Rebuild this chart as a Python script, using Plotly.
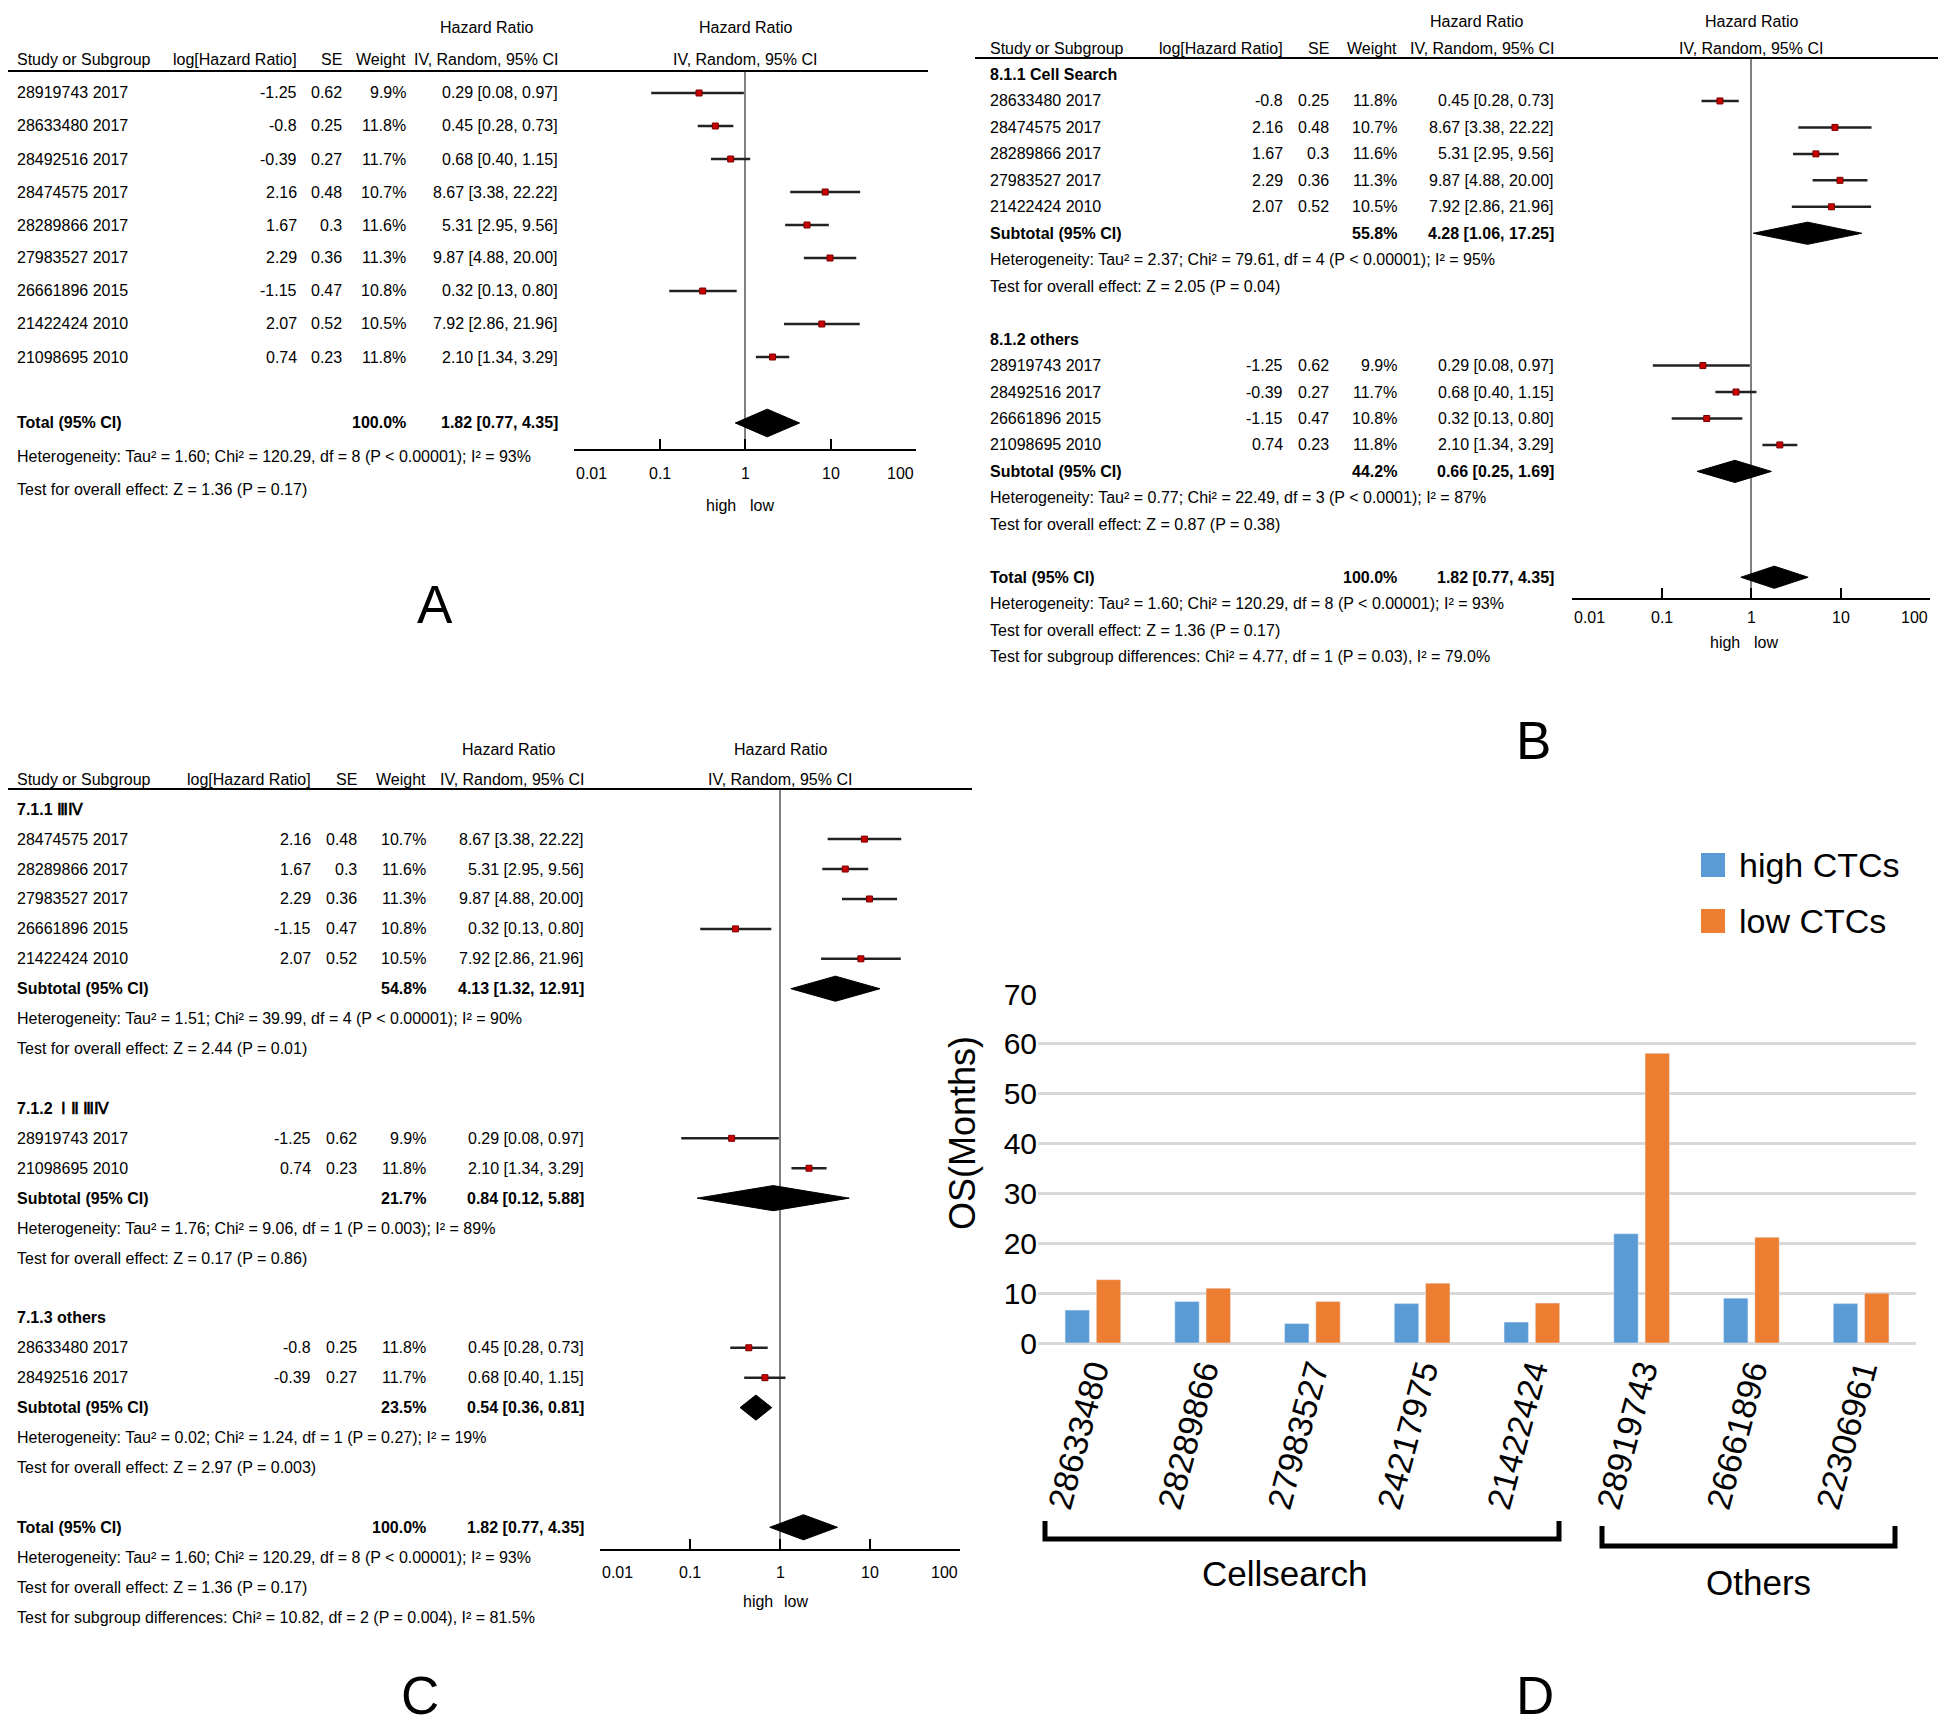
import math
import plotly.graph_objects as go

W, H = 1946, 1725
OFF = 8  # the page body margin shifts the figure by 8px
TXT = "Liberation Sans Narrow, Arial Narrow, Liberation Sans, Arial, sans-serif"
SANS = "Liberation Sans, Arial, sans-serif"
FS = 16

# study level results, same numbers in every forest plot
study_id = ["28919743", "28633480", "28492516", "28474575", "28289866",
            "27983527", "26661896", "21422424", "21098695"]
study_year = [2017, 2017, 2017, 2017, 2017, 2017, 2015, 2010, 2010]
log_hr = [-1.25, -0.8, -0.39, 2.16, 1.67, 2.29, -1.15, 2.07, 0.74]
se = [0.62, 0.25, 0.27, 0.48, 0.3, 0.36, 0.47, 0.52, 0.23]
weight = [9.9, 11.8, 11.7, 10.7, 11.6, 11.3, 10.8, 10.5, 11.8]
hr = [0.29, 0.45, 0.68, 8.67, 5.31, 9.87, 0.32, 7.92, 2.10]
hr_lo = [0.08, 0.28, 0.40, 3.38, 2.95, 4.88, 0.13, 2.86, 1.34]
hr_hi = [0.97, 0.73, 1.15, 22.22, 9.56, 20.00, 0.80, 21.96, 3.29]

# pooled over all nine studies
total_hr = [1.82, 0.77, 4.35]
total_het = "Heterogeneity: Tau² = 1.60; Chi² = 120.29, df = 8 (P < 0.00001); I² = 93%"
total_test = "Test for overall effect: Z = 1.36 (P = 0.17)"

# panel B subgroups (detection method)
b_names = ["8.1.1 Cell Search", "8.1.2 others"]
b_members = [["28633480", "28474575", "28289866", "27983527", "21422424"],
             ["28919743", "28492516", "26661896", "21098695"]]
b_weight = [55.8, 44.2]
b_hr = [[4.28, 1.06, 17.25], [0.66, 0.25, 1.69]]
b_het = ["Heterogeneity: Tau² = 2.37; Chi² = 79.61, df = 4 (P < 0.00001); I² = 95%",
         "Heterogeneity: Tau² = 0.77; Chi² = 22.49, df = 3 (P < 0.0001); I² = 87%"]
b_test = ["Test for overall effect: Z = 2.05 (P = 0.04)",
          "Test for overall effect: Z = 0.87 (P = 0.38)"]
b_diff = "Test for subgroup differences: Chi² = 4.77, df = 1 (P = 0.03), I² = 79.0%"

# panel C subgroups (stage)
c_names = ["7.1.1 ⅢⅣ", "7.1.2  Ⅰ Ⅱ ⅢⅣ", "7.1.3 others"]
c_members = [["28474575", "28289866", "27983527", "26661896", "21422424"],
             ["28919743", "21098695"],
             ["28633480", "28492516"]]
c_weight = [54.8, 21.7, 23.5]
c_hr = [[4.13, 1.32, 12.91], [0.84, 0.12, 5.88], [0.54, 0.36, 0.81]]
c_het = ["Heterogeneity: Tau² = 1.51; Chi² = 39.99, df = 4 (P < 0.00001); I² = 90%",
         "Heterogeneity: Tau² = 1.76; Chi² = 9.06, df = 1 (P = 0.003); I² = 89%",
         "Heterogeneity: Tau² = 0.02; Chi² = 1.24, df = 1 (P = 0.27); I² = 19%"]
c_test = ["Test for overall effect: Z = 2.44 (P = 0.01)",
          "Test for overall effect: Z = 0.17 (P = 0.86)",
          "Test for overall effect: Z = 2.97 (P = 0.003)"]
c_diff = "Test for subgroup differences: Chi² = 10.82, df = 2 (P = 0.004), I² = 81.5%"

# panel D bars
d_studies = ["28633480", "28289866", "27983527", "24217975", "21422424",
             "28919743", "26661896", "22306961"]
os_high = [6.6, 8.3, 3.9, 7.9, 4.2, 21.9, 9.0, 7.9]
os_low = [12.7, 11.0, 8.3, 12.0, 8.0, 58.1, 21.2, 10.0]
hr_ticks = [0.01, 0.1, 1, 10, 100]
hr_tick_text = ["0.01", "0.1", "1", "10", "100"]


def px(x):
    return (x - OFF) / W


def py(y):
    return 1 - (y - OFF) / H


def build_rows(groups=None, diff=None):
    rows = []
    if groups is None:
        rows += [("study", i) for i in range(len(study_id))]
        rows.append(("blank",))
    else:
        for name, members, w, est, het, test in groups:
            rows.append(("head", name))
            rows += [("study", study_id.index(m)) for m in members]
            rows.append(("sub", w, est))
            rows += [("note", het), ("note", test), ("blank",)]
    rows.append(("total", 100.0, total_hr))
    rows += [("note", total_het), ("note", total_test)]
    if diff:
        rows.append(("note", diff))
    return rows


panels = [
    dict(n="", rows=build_rows(), y0=93, step=33.0, top=71, bottom=449, tick_y=473,
         x_lo=574, x_hi=916, left=15, c_log=299, c_se=344, c_w=408, c_ci=560,
         hr_head=486, fx=745, rule=(0, 928), high=(721, 762, 505), letter=("A", 435, 604)),
    dict(n="2", rows=build_rows(list(zip(b_names, b_members, b_weight, b_hr, b_het, b_test)), b_diff),
         y0=74.5, step=26.46, top=58, bottom=598, tick_y=617,
         x_lo=1572, x_hi=1930, left=988, c_log=1285, c_se=1331, c_w=1399, c_ci=1556,
         hr_head=1476, fx=1751, rule=(975, 1954), high=(1725, 1766, 642), letter=("B", 1533, 740)),
    dict(n="3", rows=build_rows(list(zip(c_names, c_members, c_weight, c_hr, c_het, c_test)), c_diff),
         y0=809.2, step=29.92, top=789, bottom=1549, tick_y=1572,
         x_lo=600, x_hi=960, left=15, c_log=313, c_se=359, c_w=428, c_ci=586,
         hr_head=508, fx=780, rule=(0, 972), high=(758, 796, 1601), letter=("C", 420, 1695)),
]

fig = go.Figure()
annotations = []
shapes = []


def put(text, x, y, anchor="left", size=FS, family=TXT, **kw):
    # x, y in page pixels
    annotations.append(dict(text=text, x=px(x), xref="paper", y=py(y), yref="paper",
                            xanchor=anchor, yanchor="middle", showarrow=False,
                            font=dict(family=family, size=size, color="black"), **kw))


def ci_text(a, b, c):
    return f"{a:.2f} [{b:.2f}, {c:.2f}]"


for p in panels:
    n = p["n"]
    xa, ya = "x" + n, "y" + n
    top_L = (p["top"] - p["y0"]) / p["step"]
    bot_L = (p["bottom"] - p["y0"]) / p["step"]
    fig.update_layout(**{
        "xaxis" + n: dict(type="log", range=[-2, 2], domain=[px(p["x_lo"]), px(p["x_hi"])],
                          anchor=ya, automargin=False, showgrid=False, zeroline=False,
                          showline=True, linecolor="black", linewidth=2, ticks="inside",
                          ticklen=10, tickwidth=2, tickcolor="black", tickvals=hr_ticks,
                          showticklabels=False),
        "yaxis" + n: dict(range=[bot_L, top_L], domain=[py(p["bottom"]), py(p["top"])],
                          anchor=xa, automargin=False, visible=False),
    })

    # RevMan style tick labels: end labels sit inside the axis ends
    for k, (t, lab) in enumerate(zip(hr_ticks, hr_tick_text)):
        tx = p["x_lo"] + (p["x_hi"] - p["x_lo"]) * (math.log10(t) + 2) / 4
        anchor = "left" if k == 0 else ("right" if k == len(hr_ticks) - 1 else "center")
        put(lab, tx, p["tick_y"], anchor)

    def row_y(L, p=p):
        return p["y0"] + p["step"] * L

    # headers
    put("Hazard Ratio", p["hr_head"], row_y(-2), "center")
    put("Hazard Ratio", p["fx"], row_y(-2), "center")
    put("Study or Subgroup", p["left"], row_y(-1))
    put("log[Hazard Ratio]", p["c_log"], row_y(-1), "right")
    put("SE", p["c_se"], row_y(-1), "right")
    put("Weight", p["c_w"], row_y(-1), "right")
    put("IV, Random, 95% CI", p["c_ci"], row_y(-1), "right")
    put("IV, Random, 95% CI", p["fx"], row_y(-1), "center")
    shapes.append(dict(type="line", xref="paper", yref="paper",
                       x0=px(p["rule"][0]), x1=px(p["rule"][1]),
                       y0=py(p["top"]), y1=py(p["top"]),
                       line=dict(color="black", width=2)))

    ci_x, ci_y, sq_x, sq_y, dm_x, dm_y = [], [], [], [], [], []
    for L, row in enumerate(p["rows"]):
        kind = row[0]
        y = row_y(L)
        if kind == "study":
            i = row[1]
            put(f"{study_id[i]} {study_year[i]}", p["left"], y)
            put(str(log_hr[i]), p["c_log"], y, "right")
            put(str(se[i]), p["c_se"], y, "right")
            put(f"{weight[i]:.1f}%", p["c_w"], y, "right")
            put(ci_text(hr[i], hr_lo[i], hr_hi[i]), p["c_ci"], y, "right")
            ci_x += [hr_lo[i], hr_hi[i], None]
            ci_y += [L, L, None]
            sq_x.append(hr[i])
            sq_y.append(L)
        elif kind == "head":
            put(f"<b>{row[1]}</b>", p["left"], y)
        elif kind in ("sub", "total"):
            w, est = row[1], row[2]
            label = "Subtotal (95% CI)" if kind == "sub" else "Total (95% CI)"
            put(f"<b>{label}</b>", p["left"], y)
            put(f"<b>{w:.1f}%</b>", p["c_w"], y, "right")
            put(f"<b>{ci_text(*est)}</b>", p["c_ci"], y, "right")
            dm_x += [est[1], est[0], est[2], est[0], est[1], None]
            dm_y += [L, L - 0.42, L, L + 0.42, L, None]
        elif kind == "note":
            put(row[1], p["left"], y)

    fig.add_trace(go.Scatter(x=[1, 1], y=[top_L, bot_L], mode="lines", xaxis=xa, yaxis=ya,
                             line=dict(color="black", width=1), hoverinfo="skip"))
    fig.add_trace(go.Scatter(x=ci_x, y=ci_y, mode="lines", xaxis=xa, yaxis=ya,
                             line=dict(color="#222222", width=2.5)))
    fig.add_trace(go.Scatter(x=sq_x, y=sq_y, mode="markers", xaxis=xa, yaxis=ya,
                             marker=dict(symbol="square", size=6, color="#c80000",
                                         line=dict(color="#7a0000", width=1))))
    fig.add_trace(go.Scatter(x=dm_x, y=dm_y, mode="lines", fill="toself", xaxis=xa, yaxis=ya,
                             fillcolor="black", line=dict(color="black", width=1)))

    hx1, hx2, hy = p["high"]
    put("high", hx1, hy, "center")
    put("low", hx2, hy, "center")
    lt, lx, ly = p["letter"]
    put(lt, lx, ly, anchor="center", size=53, family=SANS)

# panel D: overall survival bars
fig.add_trace(go.Bar(x=d_studies, y=os_high, name="high CTCs", marker_color="#5b9bd5",
                     xaxis="x4", yaxis="y4"))
fig.add_trace(go.Bar(x=d_studies, y=os_low, name="low CTCs", marker_color="#ed7d31",
                     xaxis="x4", yaxis="y4"))
fig.update_layout(
    xaxis4=dict(domain=[px(1038), px(1916)], anchor="y4", type="category", automargin=False,
                tickangle=-75, showline=False, ticks="", showgrid=False,
                tickfont=dict(family=SANS, size=34, color="black")),
    yaxis4=dict(domain=[py(1343), py(994)], anchor="x4", range=[0, 70], dtick=10,
                automargin=False, showgrid=True, gridcolor="#d9d9d9", gridwidth=3,
                zeroline=True, zerolinecolor="#d9d9d9", zerolinewidth=3, showline=False,
                ticks="", tickfont=dict(family=SANS, size=30, color="black")),
    bargap=0.43,
    bargroupgap=0.22,
)
put("OS(Months)", 962, 1133, anchor="center", size=36, family=SANS, textangle=-90)

# legend drawn by hand to get the big swatches
for color, label, cy in [("#5b9bd5", "high CTCs", 865), ("#ed7d31", "low CTCs", 921)]:
    shapes.append(dict(type="rect", xref="paper", yref="paper", x0=px(1701), x1=px(1725),
                       y0=py(cy - 12), y1=py(cy + 12),
                       fillcolor=color, line=dict(width=0)))
    put(label, 1737, cy, size=34, family=SANS)

# group brackets under the bars
for x0, x1, ytop, ybot, label, tx, ty in [(1045, 1559, 1521, 1539, "Cellsearch", 1284, 1573),
                                          (1602, 1895, 1526, 1546, "Others", 1758, 1582)]:
    path = (f"M {px(x0)} {py(ytop)} L {px(x0)} {py(ybot)} "
            f"L {px(x1)} {py(ybot)} L {px(x1)} {py(ytop)}")
    shapes.append(dict(type="path", xref="paper", yref="paper", path=path,
                       line=dict(color="black", width=5)))
    put(label, tx, ty, anchor="center", size=35, family=SANS)

shapes.append(dict(type="line", xref="paper", yref="paper", x0=px(1942), x1=px(1942),
                   y0=py(890), y1=py(1625), line=dict(color="#cccccc", width=2)))
put("D", 1535, 1695, anchor="center", size=53, family=SANS)

fig.update_layout(
    width=W, height=H,
    margin=dict(l=0, r=0, t=0, b=0),
    paper_bgcolor="white",
    plot_bgcolor="rgba(0,0,0,0)",
    showlegend=False,
    annotations=annotations,
    shapes=shapes,
)
fig.write_html("out.html")
